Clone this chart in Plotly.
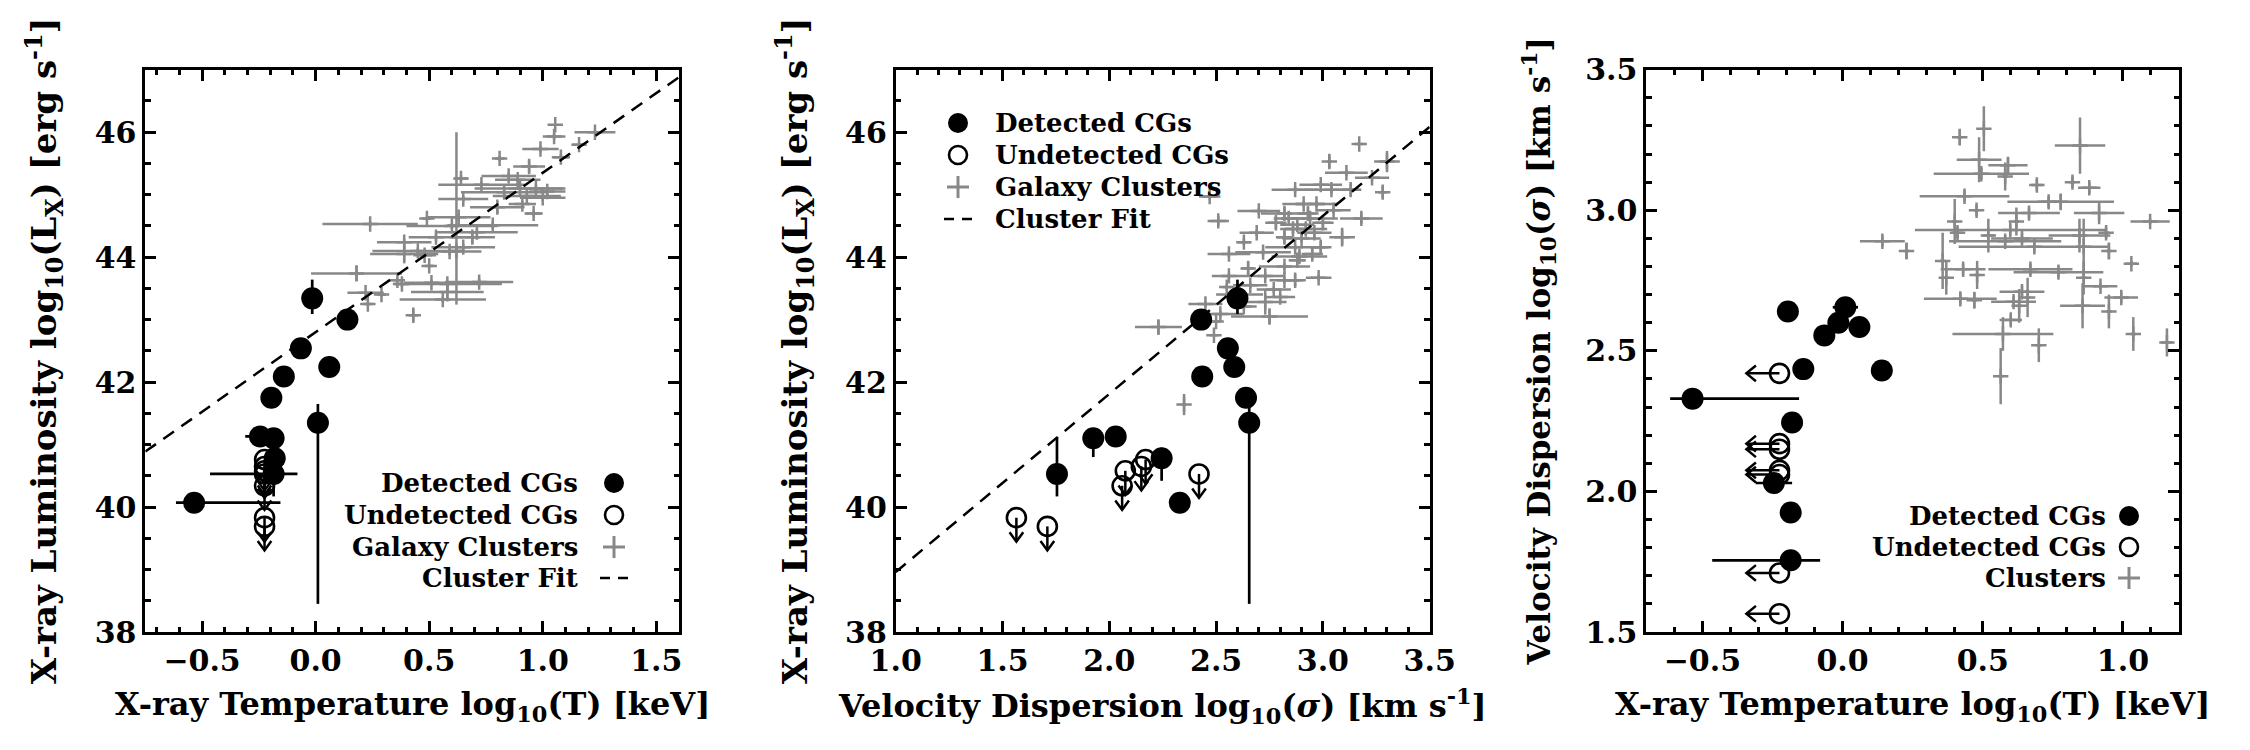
import plotly.graph_objects as go

# ---------------- data ----------------
# Detected compact groups
cg_logT = [-0.015, 0.14, -0.065, -0.14, 0.06, -0.195, 0.01, -0.245, -0.185, -0.18, -0.185, -0.535]
cg_logT_err_lo = [0, 0, 0, 0, 0, 0, 0.045, 0.065, 0.03, 0, 0.28, 0.08]
cg_logT_err_hi = [0, 0, 0, 0, 0, 0, 0.045, 0.065, 0.03, 0, 0.105, 0.38]
cg_logLx = [43.34, 43.00, 42.54, 42.09, 42.24, 41.75, 41.35, 41.13, 41.10, 40.78, 40.53, 40.07]
cg_logLx_err_lo = [0.25, 0, 0, 0, 0, 0, 2.9, 0, 0.30, 0.36, 0.36, 0]
cg_logLx_err_hi = [0.30, 0, 0, 0, 0, 0, 0.30, 0, 0.15, 0.17, 0.59, 0]
cg_logsig = [2.60, 2.43, 2.555, 2.435, 2.585, 2.64, 2.655, 2.03, 1.925, 2.245, 1.755, 2.33]
cg_logsig_err = [0, 0, 0, 0, 0, 0, 0, 0, 0.03, 0, 0, 0]

# Undetected compact groups (upper limits)
ucg_logT_ul = [-0.225, -0.225, -0.225, -0.225, -0.225, -0.225, -0.225]
ucg_logLx_ul = [39.83, 39.69, 40.34, 40.58, 40.65, 40.76, 40.53]
ucg_logsig = [1.565, 1.71, 2.06, 2.075, 2.15, 2.17, 2.42]

# Galaxy clusters, panel 1 (logT, logLx)
cl1_logT = [1.055, 1.05, 1.23, 1.16, 0.99, 0.81, 1.08, 0.94, 0.64, 0.89, 0.73, 0.83, 0.97, 1.02, 0.93,
            0.65, 0.91, 0.96, 0.49, 0.63, 0.24, 0.78, 0.71, 0.39, 0.53, 0.69, 0.65, 0.39, 0.48, 0.59,
            0.50, 0.62, 0.18, 0.36, 0.38, 0.51, 0.58, 0.72, 0.29, 0.22, 0.58, 0.56, 0.23, 0.43, 0.85,
            0.90, 1.00, 0.80, 0.60, 0.45]
cl1_logT_err = [0.0, 0.05, 0.09, 0.03, 0.08, 0.02, 0.04, 0.07, 0.03, 0.10, 0.19, 0.19, 0.12, 0.08, 0.15,
                0.11, 0.06, 0.04, 0.02, 0.14, 0.21, 0.20, 0.18, 0.12, 0.12, 0.10, 0.14, 0.15, 0.05, 0.14,
                0.02, 0.03, 0.20, 0.02, 0.03, 0.12, 0.24, 0.15, 0.02, 0.08, 0.16, 0.19, 0.02, 0.02, 0.12,
                0.20, 0.10, 0.12, 0.20, 0.20]
cl1_logLx = [46.12, 45.93, 46.00, 45.80, 45.73, 45.58, 45.60, 45.45, 45.26, 45.24, 45.16, 45.04, 45.10, 45.05, 44.98,
             44.93, 44.85, 44.70, 44.62, 44.64, 44.53, 44.51, 44.40, 44.24, 44.32, 44.32, 44.16, 44.05, 44.03, 44.09,
             43.86, 44.10, 43.74, 43.63, 43.57, 43.59, 43.57, 43.60, 43.40, 43.43, 43.44, 43.32, 43.25, 43.07, 45.30,
             45.10, 44.95, 44.80, 44.50, 44.10]
cl1_logLx_err_hi = [0.0, 0.05, 0.03, 0.03, 0.05, 0.04, 0.05, 0.10, 0.05, 0.08, 0.05, 0.06, 0.06, 0.05, 0.05,
                    0.05, 0.05, 0.05, 0.03, 0.05, 0.04, 0.06, 0.05, 0.05, 0.06, 0.10, 0.05, 0.15, 0.05, 0.06,
                    0.03, 1.90, 0.13, 0.03, 0.05, 0.05, 0.05, 0.06, 0.03, 0.03, 0.15, 0.05, 0.03, 0.10, 0.05,
                    0.05, 0.05, 0.10, 0.05, 0.05]
cl1_logLx_err_lo = [0.0, 0.05, 0.03, 0.03, 0.05, 0.04, 0.05, 0.10, 0.05, 0.08, 0.05, 0.06, 0.06, 0.05, 0.05,
                    0.05, 0.05, 0.05, 0.03, 0.05, 0.04, 0.06, 0.05, 0.05, 0.06, 0.10, 0.05, 0.15, 0.05, 0.06,
                    0.03, 0.86, 0.13, 0.03, 0.05, 0.05, 0.05, 0.06, 0.03, 0.03, 0.15, 0.05, 0.03, 0.10, 0.05,
                    0.05, 0.05, 0.10, 0.05, 0.05]

# Galaxy clusters, panel 2 (logsigma, logLx)
cl2_logsig = [3.17, 3.30, 3.03, 3.11, 3.23, 2.99, 3.04, 3.13, 2.87, 3.28, 2.47, 2.51, 2.70, 2.82, 2.94,
              3.18, 2.78, 2.88, 3.00, 2.69, 2.82, 2.96, 3.09, 2.63, 2.87, 2.99, 2.72, 2.56, 2.89, 2.82,
              2.65, 2.56, 2.73, 2.82, 2.98, 2.66, 2.55, 2.77, 2.87, 2.61, 2.80, 2.73, 2.45, 2.63, 2.52,
              2.75, 2.50, 2.23, 2.49, 2.35, 2.97, 2.92, 2.86, 2.90, 2.93, 2.84, 2.95, 2.88, 2.91, 3.05]
cl2_logsig_err = [0.02, 0.06, 0.01, 0.10, 0.08, 0.10, 0.13, 0.05, 0.11, 0.02, 0.05, 0.05, 0.10, 0.11, 0.13,
                  0.10, 0.05, 0.08, 0.05, 0.08, 0.04, 0.08, 0.06, 0.03, 0.14, 0.05, 0.13, 0.10, 0.13, 0.12,
                  0.03, 0.08, 0.09, 0.07, 0.06, 0.08, 0.02, 0.08, 0.05, 0.11, 0.07, 0.10, 0.08, 0.06, 0.11,
                  0.18, 0.02, 0.11, 0.02, 0.01, 0.10, 0.10, 0.06, 0.09, 0.05, 0.07, 0.05, 0.04, 0.10, 0.08]
cl2_logLx = [45.81, 45.53, 45.53, 45.35, 45.27, 45.16, 45.08, 45.08, 45.08, 45.04, 44.97, 44.58, 44.74, 44.70, 44.62,
             44.62, 44.55, 44.52, 44.55, 44.39, 44.32, 44.39, 44.32, 44.24, 44.16, 44.16, 44.08, 44.05, 44.01, 43.85,
             43.82, 43.70, 43.70, 43.63, 43.67, 43.55, 43.52, 43.48, 43.63, 43.40, 43.36, 43.28, 43.25, 43.21, 43.09,
             43.05, 42.97, 42.88, 42.75, 41.64, 44.85, 44.45, 44.45, 44.30, 44.70, 44.62, 44.05, 43.95, 44.85, 44.75]
cl2_logLx_err = [0.0, 0.17, 0.11, 0.05, 0.05, 0.05, 0.06, 0.10, 0.05, 0.10, 0.05, 0.08, 0.05, 0.10, 0.05,
                 0.08, 0.10, 0.05, 0.10, 0.05, 0.10, 0.08, 0.15, 0.05, 0.05, 0.10, 0.05, 0.05, 0.10, 0.05,
                 0.10, 0.05, 0.05, 0.05, 0.05, 0.05, 0.05, 0.05, 0.10, 0.05, 0.05, 0.20, 0.05, 0.05, 0.05,
                 0.13, 0.03, 0.12, 0.0, 0.17, 0.05, 0.10, 0.08, 0.06, 0.10, 0.05, 0.10, 0.05, 0.05, 0.05]

# Galaxy clusters, panel 3 (logT, logsigma)
cl3_logT = [0.847, 0.504, 0.418, 0.487, 0.59, 0.58, 0.495, 0.693, 0.82, 0.88, 0.435, 0.478, 0.735, 0.778, 0.915,
            0.665, 0.62, 0.40, 1.097, 0.598, 0.41, 0.52, 0.64, 0.845, 0.94, 0.142, 0.228, 0.58, 0.684, 0.95,
            0.357, 1.03, 0.43, 0.67, 0.77, 0.48, 0.86, 0.37, 0.92, 0.64, 0.66, 0.994, 0.42, 0.47, 0.61,
            0.63, 0.856, 0.95, 0.60, 0.572, 0.564, 0.70, 1.037, 1.157, 0.86]
cl3_logT_err = [0.09, 0.0, 0.01, 0.08, 0.07, 0.01, 0.17, 0.02, 0.01, 0.04, 0.16, 0.01, 0.04, 0.19, 0.09,
                0.11, 0.01, 0.01, 0.07, 0.34, 0.02, 0.02, 0.11, 0.11, 0.01, 0.08, 0.01, 0.20, 0.27, 0.01,
                0.01, 0.02, 0.08, 0.15, 0.16, 0.01, 0.01, 0.01, 0.06, 0.08, 0.01, 0.06, 0.13, 0.01, 0.08,
                0.01, 0.08, 0.01, 0.04, 0.18, 0.01, 0.01, 0.01, 0.02, 0.01]
cl3_logsig = [3.23, 3.29, 3.26, 3.18, 3.16, 3.12, 3.13, 3.09, 3.10, 3.08, 3.05, 3.00, 3.03, 3.03, 2.99,
              2.99, 2.96, 2.96, 2.96, 2.93, 2.92, 2.91, 2.90, 2.91, 2.92, 2.89, 2.855, 2.89, 2.87, 2.855,
              2.82, 2.81, 2.79, 2.79, 2.78, 2.77, 2.76, 2.76, 2.73, 2.71, 2.69, 2.69, 2.685, 2.68, 2.675,
              2.66, 2.66, 2.64, 2.61, 2.56, 2.41, 2.52, 2.56, 2.53, 2.87]
cl3_logsig_err = [0.10, 0.08, 0.03, 0.08, 0.03, 0.05, 0.02, 0.02, 0.02, 0.02, 0.02, 0.02, 0.02, 0.03, 0.04,
                  0.02, 0.05, 0.08, 0.01, 0.02, 0.02, 0.06, 0.02, 0.06, 0.02, 0.02, 0.03, 0.02, 0.02, 0.03,
                  0.10, 0.01, 0.02, 0.02, 0.02, 0.05, 0.06, 0.06, 0.01, 0.02, 0.07, 0.02, 0.02, 0.03, 0.02,
                  0.06, 0.08, 0.06, 0.02, 0.06, 0.10, 0.06, 0.06, 0.05, 0.10]

# Cluster fits: logLx = intercept + slope * x
fit_T_intercept, fit_T_slope = 42.80, 2.55
fit_sig_intercept, fit_sig_slope = 36.11, 2.85

# axis ranges
range_T1 = [-0.75, 1.6]
range_Lx = [38, 47]
range_sig2 = [1.0, 3.5]
range_T3 = [-0.7, 1.2]
range_sig3 = [1.5, 3.5]

# ---------------- styling ----------------
W, H = 2250, 750
FONT = "DejaVu Serif"
GRAY = "#888888"
LW = 2.7


def F(size):
    return dict(family=FONT, size=size, color="black", weight="bold")


TICKF = F(30)
LEGF = F(26)


def px(x):
    return x / W


def py(y):
    return 1 - y / H


# axes pixel boxes (left, right) and (top, bottom)
boxes_x = [(137.3, 671.0), (887.7, 1421.7), (1638.3, 2171.0)]
box_top, box_bot = 61.7, 624.0

fig = go.Figure()


def down_arrows(xs, ys, L, hx, hy):
    X, Y = [], []
    for x, y in zip(xs, ys):
        X += [x, x, None, x - hx, x, x + hx, None]
        Y += [y, y - L, None, y - L + hy, y - L, y - L + hy, None]
    return X, Y


def left_arrows(xs, ys, L, hx, hy):
    X, Y = [], []
    for x, y in zip(xs, ys):
        X += [x, x - L, None, x - L + hx, x - L, x - L + hx, None]
        Y += [y, y, None, y + hy, y, y - hy, None]
    return X, Y


cross = dict(symbol="cross-thin", size=11, line=dict(width=2.5, color=GRAY), color=GRAY)
ebar_gray = dict(type="data", width=0, thickness=2.5, color=GRAY)
ebar_blk = dict(type="data", width=0, thickness=LW, color="black")
open_mk = dict(symbol="circle-open", size=19, color="black", line=dict(width=2.6, color="black"))
fill_mk = dict(symbol="circle", size=22, color="black")

# ---- Panel 1: T vs Lx ----
fig.add_trace(go.Scatter(
    x=cl1_logT, y=cl1_logLx, mode="markers", marker=cross, xaxis="x", yaxis="y",
    error_x=dict(ebar_gray, array=cl1_logT_err),
    error_y=dict(ebar_gray, symmetric=False, array=cl1_logLx_err_hi, arrayminus=cl1_logLx_err_lo),
    showlegend=False))
fig.add_trace(go.Scatter(
    x=range_T1, y=[fit_T_intercept + fit_T_slope * v for v in range_T1], mode="lines",
    line=dict(color="black", width=2.5, dash="13px,9px"), xaxis="x", yaxis="y", showlegend=False))
ax, ay = down_arrows(ucg_logT_ul, ucg_logLx_ul, 0.385, 0.03, 0.15)
fig.add_trace(go.Scatter(x=ax, y=ay, mode="lines", line=dict(color="black", width=2.5),
                         xaxis="x", yaxis="y", showlegend=False))
fig.add_trace(go.Scatter(x=ucg_logT_ul, y=ucg_logLx_ul, mode="markers", marker=open_mk,
                         xaxis="x", yaxis="y", showlegend=False))
fig.add_trace(go.Scatter(
    x=cg_logT, y=cg_logLx, mode="markers", marker=fill_mk,
    error_x=dict(ebar_blk, symmetric=False, array=cg_logT_err_hi, arrayminus=cg_logT_err_lo),
    error_y=dict(ebar_blk, symmetric=False, array=cg_logLx_err_hi, arrayminus=cg_logLx_err_lo),
    xaxis="x", yaxis="y", showlegend=False))

# ---- Panel 2: sigma vs Lx ----
fig.add_trace(go.Scatter(
    x=cl2_logsig, y=cl2_logLx, mode="markers", marker=cross, xaxis="x2", yaxis="y2",
    error_x=dict(ebar_gray, array=cl2_logsig_err),
    error_y=dict(ebar_gray, array=cl2_logLx_err), showlegend=False))
fig.add_trace(go.Scatter(
    x=range_sig2, y=[fit_sig_intercept + fit_sig_slope * v for v in range_sig2], mode="lines",
    line=dict(color="black", width=2.5, dash="13px,9px"), xaxis="x2", yaxis="y2", showlegend=False))
ax, ay = down_arrows(ucg_logsig, ucg_logLx_ul, 0.385, 0.032, 0.15)
fig.add_trace(go.Scatter(x=ax, y=ay, mode="lines", line=dict(color="black", width=2.5),
                         xaxis="x2", yaxis="y2", showlegend=False))
fig.add_trace(go.Scatter(x=ucg_logsig, y=ucg_logLx_ul, mode="markers", marker=open_mk,
                         xaxis="x2", yaxis="y2", showlegend=False))
fig.add_trace(go.Scatter(
    x=cg_logsig, y=cg_logLx, mode="markers", marker=fill_mk,
    error_x=dict(ebar_blk, array=cg_logsig_err),
    error_y=dict(ebar_blk, symmetric=False, array=cg_logLx_err_hi, arrayminus=cg_logLx_err_lo),
    xaxis="x2", yaxis="y2", showlegend=False))

# ---- Panel 3: T vs sigma ----
fig.add_trace(go.Scatter(
    x=cl3_logT, y=cl3_logsig, mode="markers", marker=cross, xaxis="x3", yaxis="y3",
    error_x=dict(ebar_gray, array=cl3_logT_err),
    error_y=dict(ebar_gray, array=cl3_logsig_err), showlegend=False))
ax, ay = left_arrows(ucg_logT_ul, ucg_logsig, 0.118, 0.034, 0.028)
fig.add_trace(go.Scatter(x=ax, y=ay, mode="lines", line=dict(color="black", width=2.5),
                         xaxis="x3", yaxis="y3", showlegend=False))
fig.add_trace(go.Scatter(x=ucg_logT_ul, y=ucg_logsig, mode="markers", marker=open_mk,
                         xaxis="x3", yaxis="y3", showlegend=False))
fig.add_trace(go.Scatter(
    x=cg_logT, y=cg_logsig, mode="markers", marker=fill_mk,
    error_x=dict(ebar_blk, symmetric=False, array=cg_logT_err_hi, arrayminus=cg_logT_err_lo),
    error_y=dict(ebar_blk, array=cg_logsig_err),
    xaxis="x3", yaxis="y3", showlegend=False))


def axis(rng, dom, dtick, minor, anchor, fmt=None, title=None, standoff=None, tsize=32):
    d = dict(range=rng, domain=dom, anchor=anchor, showline=True, linecolor="black", linewidth=LW,
             mirror="allticks", ticks="inside", ticklen=11, tickwidth=LW, tickcolor="black",
             dtick=dtick, tick0=0, showgrid=False, zeroline=False, automargin=False,
             minor=dict(dtick=minor, tick0=0, ticks="inside", ticklen=5.5, tickwidth=LW,
                        tickcolor="black", showgrid=False),
             tickfont=TICKF)
    if fmt:
        d["tickformat"] = fmt
    if title:
        d["title"] = dict(text=title, font=F(tsize), standoff=standoff)
    return d


ydom = [py(box_bot), py(box_top)]
xd = [[px(a), px(b)] for a, b in boxes_x]

ytitles = ["X-ray Luminosity log<sub>10</sub>(L<sub>X</sub>) [erg s<sup>-1</sup>]",
           "X-ray Luminosity log<sub>10</sub>(L<sub>X</sub>) [erg s<sup>-1</sup>]",
           "Velocity Dispersion log<sub>10</sub>(<i>σ</i>) [km s<sup>-1</sup>]"]

fig.update_layout(
    template="none",
    width=W, height=H, margin=dict(l=0, r=0, t=0, b=0, autoexpand=False),
    paper_bgcolor="white", plot_bgcolor="white",
    font=TICKF, showlegend=False,
    xaxis=axis(range_T1, xd[0], 0.5, 0.1, "y", ".1f"),
    yaxis=axis(range_Lx, ydom, 2, 0.5, "x", title=ytitles[0], standoff=28, tsize=34),
    xaxis2=axis(range_sig2, xd[1], 0.5, 0.1, "y2", ".1f"),
    yaxis2=axis(range_Lx, ydom, 2, 0.5, "x2", title=ytitles[1], standoff=28, tsize=34),
    xaxis3=axis(range_T3, xd[2], 0.5, 0.1, "y3", ".1f"),
    yaxis3=axis(range_sig3, ydom, 0.5, 0.1, "x3", ".1f", title=ytitles[2], standoff=26, tsize=31),
)

# ---- x axis titles ----
xtitles = ["X-ray Temperature log<sub>10</sub>(T) [keV]",
           "Velocity Dispersion log<sub>10</sub>(<i>σ</i>) [km s<sup>-1</sup>]",
           "X-ray Temperature log<sub>10</sub>(T) [keV]"]
ann = []
for i in range(3):
    cx = (boxes_x[i][0] + boxes_x[i][1]) / 2
    ann.append(dict(text=xtitles[i], x=px(cx), y=py(698), xref="paper", yref="paper",
                    xanchor="center", yanchor="middle", showarrow=False, font=F(32)))

# ---- legends (text + drawn symbols) ----
shapes = []


def leg_text(txt, x, y, anchor):
    ann.append(dict(text=txt, x=px(x), y=py(y), xref="paper", yref="paper", xanchor=anchor,
                    yanchor="middle", showarrow=False, font=LEGF))


def sym_filled(cx, cy, r=10):
    shapes.append(dict(type="circle", xref="paper", yref="paper", x0=px(cx - r), x1=px(cx + r),
                       y0=py(cy + r), y1=py(cy - r), fillcolor="black", line=dict(width=0)))


def sym_open(cx, cy, r=9):
    shapes.append(dict(type="circle", xref="paper", yref="paper", x0=px(cx - r), x1=px(cx + r),
                       y0=py(cy + r), y1=py(cy - r), line=dict(width=2.6, color="black")))


def sym_plus(cx, cy, r=11):
    shapes.append(dict(type="line", xref="paper", yref="paper", x0=px(cx - r), x1=px(cx + r),
                       y0=py(cy), y1=py(cy), line=dict(width=3, color=GRAY)))
    shapes.append(dict(type="line", xref="paper", yref="paper", x0=px(cx), x1=px(cx),
                       y0=py(cy - r), y1=py(cy + r), line=dict(width=3, color=GRAY)))


def sym_dash(cx, cy):
    for a, b in [(-14, -4), (4, 14)]:
        shapes.append(dict(type="line", xref="paper", yref="paper", x0=px(cx + a), x1=px(cx + b),
                           y0=py(cy), y1=py(cy), line=dict(width=2.5, color="black")))


# panel 1 legend
rows1 = [475, 507, 539, 570]
tx1, sx1 = 572, 606
leg_text("Detected CGs", tx1, rows1[0], "right"); sym_filled(sx1, rows1[0])
leg_text("Undetected CGs", tx1, rows1[1], "right"); sym_open(sx1, rows1[1])
leg_text("Galaxy Clusters", tx1, rows1[2], "right"); sym_plus(sx1, rows1[2])
leg_text("Cluster Fit", tx1, rows1[3], "right"); sym_dash(sx1, rows1[3])

# panel 2 legend
rows2 = [115, 147, 179, 211]
sx2, tx2 = 950, 985
leg_text("Detected CGs", tx2, rows2[0], "left"); sym_filled(sx2, rows2[0])
leg_text("Undetected CGs", tx2, rows2[1], "left"); sym_open(sx2, rows2[1])
leg_text("Galaxy Clusters", tx2, rows2[2], "left"); sym_plus(sx2, rows2[2])
leg_text("Cluster Fit", tx2, rows2[3], "left"); sym_dash(sx2, rows2[3])

# panel 3 legend
rows3 = [508, 539, 570]
tx3, sx3 = 2100, 2121
leg_text("Detected CGs", tx3, rows3[0], "right"); sym_filled(sx3, rows3[0])
leg_text("Undetected CGs", tx3, rows3[1], "right"); sym_open(sx3, rows3[1])
leg_text("Clusters", tx3, rows3[2], "right"); sym_plus(sx3, rows3[2])

fig.update_layout(annotations=ann, shapes=shapes)
fig.write_html("out.html")
